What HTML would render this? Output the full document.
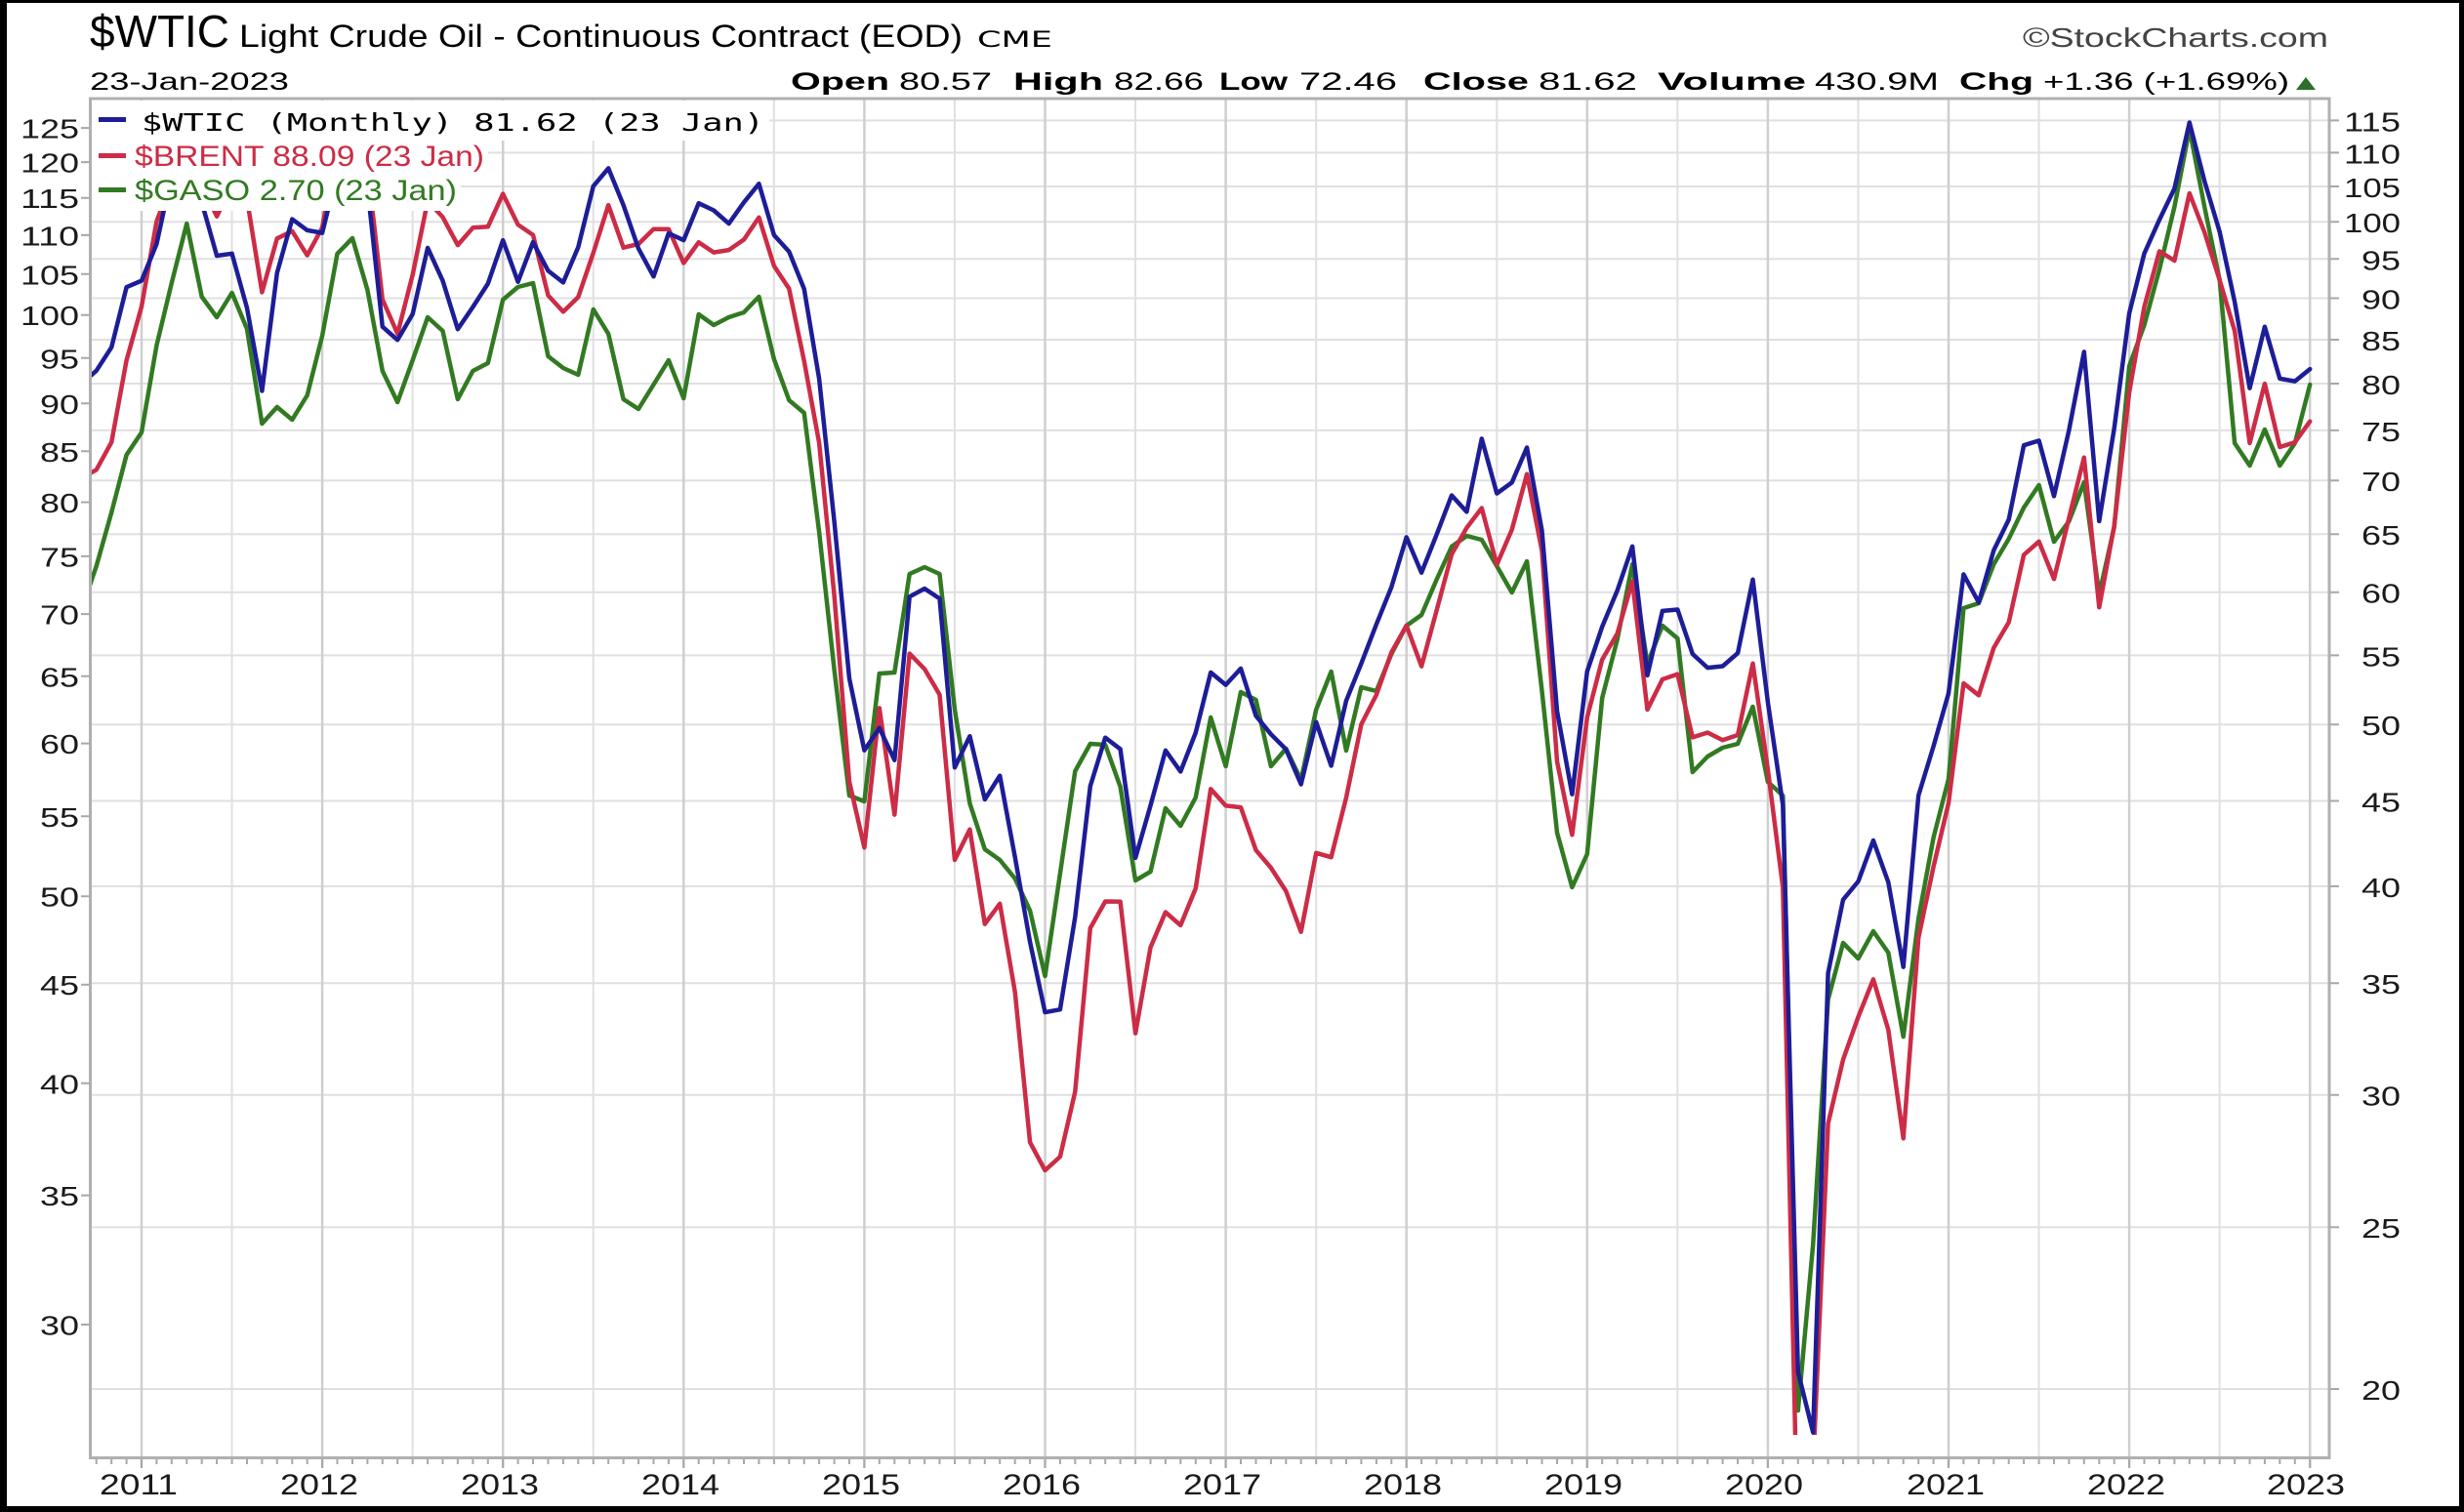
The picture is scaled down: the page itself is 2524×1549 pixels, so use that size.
<!DOCTYPE html>
<html><head><meta charset="utf-8">
<style>
html,body{margin:0;padding:0;background:#000;}
svg{display:block}
text{font-family:"Liberation Sans",sans-serif;}
.ax{font-family:"DejaVu Sans",sans-serif;font-size:28px;fill:#1a1a1a;}
.xl{font-family:"DejaVu Sans",sans-serif;font-size:30px;fill:#1a1a1a;}
</style></head>
<body>
<svg width="2524" height="1549" viewBox="0 0 2524 1549" xmlns="http://www.w3.org/2000/svg">
<defs><clipPath id="pc"><rect x="94" y="102" width="2291" height="1368"/></clipPath></defs>
<rect x="0" y="0" width="2524" height="1549" fill="#000"/>
<rect x="7" y="3" width="2512" height="1540" fill="#fff"/>

<!-- header -->
<text x="92" y="48" font-size="46" textLength="143" lengthAdjust="spacingAndGlyphs">$WTIC</text>
<text x="245" y="48" font-size="32" textLength="741" lengthAdjust="spacingAndGlyphs">Light Crude Oil - Continuous Contract (EOD)</text>
<text x="1001" y="48" font-size="22" style="font-family:'DejaVu Sans',sans-serif" textLength="77" lengthAdjust="spacingAndGlyphs">CME</text>
<text x="2072" y="48" font-size="28" fill="#444" textLength="313" lengthAdjust="spacingAndGlyphs">©StockCharts.com</text>

<text x="92" y="92" font-size="25" textLength="204" lengthAdjust="spacingAndGlyphs">23-Jan-2023</text>
<text x="810" y="92" font-size="25" font-weight="bold" textLength="101" lengthAdjust="spacingAndGlyphs">Open</text>
<text x="921" y="92" font-size="25" textLength="95" lengthAdjust="spacingAndGlyphs">80.57</text>
<text x="1038" y="92" font-size="25" font-weight="bold" textLength="92" lengthAdjust="spacingAndGlyphs">High</text>
<text x="1141" y="92" font-size="25" textLength="92" lengthAdjust="spacingAndGlyphs">82.66</text>
<text x="1249" y="92" font-size="25" font-weight="bold" textLength="70" lengthAdjust="spacingAndGlyphs">Low</text>
<text x="1331" y="92" font-size="25" textLength="100" lengthAdjust="spacingAndGlyphs">72.46</text>
<text x="1458" y="92" font-size="25" font-weight="bold" textLength="108" lengthAdjust="spacingAndGlyphs">Close</text>
<text x="1576" y="92" font-size="25" textLength="101" lengthAdjust="spacingAndGlyphs">81.62</text>
<text x="1698" y="92" font-size="25" font-weight="bold" textLength="152" lengthAdjust="spacingAndGlyphs">Volume</text>
<text x="1859" y="92" font-size="25" textLength="127" lengthAdjust="spacingAndGlyphs">430.9M</text>
<text x="2007" y="92" font-size="25" font-weight="bold" textLength="76" lengthAdjust="spacingAndGlyphs">Chg</text>
<text x="2093" y="92" font-size="25" textLength="252" lengthAdjust="spacingAndGlyphs">+1.36 (+1.69%)</text>
<polygon points="2352,92 2372,92 2362,79" fill="#2e6e2a"/>

<!-- grid -->
<g stroke="#e0e0e0" stroke-width="2">
<path d="M93 1423H2386M93 1257.2H2386M93 1121.7H2386M93 1007.2H2386M93 908H2386M93 820.5H2386M93 742.2H2386M93 671.4H2386M93 606.7H2386M93 547.2H2386M93 492.2H2386M93 440.9H2386M93 393H2386M93 348H2386M93 305.5H2386M93 265.3H2386M93 227.2H2386M93 191H2386M93 156.4H2386M93 123.4H2386"/>
<path d="M237.55 101V1493M422.65 101V1493M607.75 101V1493M792.85 101V1493M977.95 101V1493M1163.05 101V1493M1348.15 101V1493M1533.25 101V1493M1718.35 101V1493M1903.45 101V1493M2088.55 101V1493M2273.65 101V1493"/>
</g>
<g stroke="#cfcfcf" stroke-width="2.5">
<path d="M145 101V1504M330.1 101V1504M515.2 101V1504M700.3 101V1504M885.4 101V1504M1070.5 101V1504M1255.6 101V1504M1440.7 101V1504M1625.8 101V1504M1810.9 101V1504M1996 101V1504M2181.1 101V1504M2366.2 101V1504"/>
</g>

<!-- lines -->
<g id="lines" clip-path="url(#pc)"></g>

<!-- frame -->
<rect x="92.5" y="101" width="2293.5" height="1392.5" fill="none" stroke="#b0b0b0" stroke-width="3"/>
<path id="xt" stroke="#a8a8a8" stroke-width="2" fill="none" d=""/>
<g stroke="#a8a8a8" stroke-width="2">
<path d="M83 131.1H92M83 166.1H92M83 202.7H92M83 240.9H92M83 280.8H92M83 322.7H92M83 366.8H92M83 413.3H92M83 462.3H92M83 514.5H92M83 569.9H92M83 629.1H92M83 692.8H92M83 761.6H92M83 836.3H92M83 918.2H92M83 1008.7H92M83 1109.8H92M83 1224.6H92M83 1357H92"/>
<path d="M2387 1423H2396M2387 1257.2H2396M2387 1121.7H2396M2387 1007.2H2396M2387 908H2396M2387 820.5H2396M2387 742.2H2396M2387 671.4H2396M2387 606.7H2396M2387 547.2H2396M2387 492.2H2396M2387 440.9H2396M2387 393H2396M2387 348H2396M2387 305.5H2396M2387 265.3H2396M2387 227.2H2396M2387 191H2396M2387 156.4H2396M2387 123.4H2396"/>
</g>

<!-- legend -->
<rect x="94" y="103" width="694" height="41" fill="#fff"/>
<rect x="94" y="144" width="406" height="35" fill="#fff"/>
<rect x="94" y="179" width="378" height="37" fill="#fff"/>
<rect x="101" y="120" width="28" height="5" fill="#1d1d97"/>
<rect x="101" y="157" width="28" height="5" fill="#cc2c46"/>
<rect x="101" y="192" width="28" height="5" fill="#327a22"/>
<text x="145" y="134" font-size="25" style="font-family:'DejaVu Sans Mono',monospace" textLength="638" lengthAdjust="spacingAndGlyphs">$WTIC (Monthly) 81.62 (23 Jan)</text>
<text x="138" y="170" font-size="30" fill="#cc2c46" textLength="358" lengthAdjust="spacingAndGlyphs">$BRENT 88.09 (23 Jan)</text>
<text x="138" y="205" font-size="30" fill="#327a22" textLength="330" lengthAdjust="spacingAndGlyphs">$GASO 2.70 (23 Jan)</text>

<!-- left axis labels -->
<g class="ax" text-anchor="end">
<text x="81" y="141.6" textLength="60" lengthAdjust="spacingAndGlyphs">125</text>
<text x="81" y="176.6" textLength="60" lengthAdjust="spacingAndGlyphs">120</text>
<text x="81" y="213.2" textLength="60" lengthAdjust="spacingAndGlyphs">115</text>
<text x="81" y="251.4" textLength="60" lengthAdjust="spacingAndGlyphs">110</text>
<text x="81" y="291.3" textLength="60" lengthAdjust="spacingAndGlyphs">105</text>
<text x="81" y="333.2" textLength="60" lengthAdjust="spacingAndGlyphs">100</text>
<text x="81" y="377.3" textLength="40" lengthAdjust="spacingAndGlyphs">95</text>
<text x="81" y="423.8" textLength="40" lengthAdjust="spacingAndGlyphs">90</text>
<text x="81" y="472.8" textLength="40" lengthAdjust="spacingAndGlyphs">85</text>
<text x="81" y="525" textLength="40" lengthAdjust="spacingAndGlyphs">80</text>
<text x="81" y="580.4" textLength="40" lengthAdjust="spacingAndGlyphs">75</text>
<text x="81" y="639.6" textLength="40" lengthAdjust="spacingAndGlyphs">70</text>
<text x="81" y="703.3" textLength="40" lengthAdjust="spacingAndGlyphs">65</text>
<text x="81" y="772.1" textLength="40" lengthAdjust="spacingAndGlyphs">60</text>
<text x="81" y="846.8" textLength="40" lengthAdjust="spacingAndGlyphs">55</text>
<text x="81" y="928.7" textLength="40" lengthAdjust="spacingAndGlyphs">50</text>
<text x="81" y="1019.2" textLength="40" lengthAdjust="spacingAndGlyphs">45</text>
<text x="81" y="1120.3" textLength="40" lengthAdjust="spacingAndGlyphs">40</text>
<text x="81" y="1235.1" textLength="40" lengthAdjust="spacingAndGlyphs">35</text>
<text x="81" y="1367.5" textLength="40" lengthAdjust="spacingAndGlyphs">30</text>
</g>

<!-- right axis labels -->
<g class="ax" text-anchor="end">
<text x="2459" y="134.4" textLength="58" lengthAdjust="spacingAndGlyphs">115</text>
<text x="2459" y="167.4" textLength="58" lengthAdjust="spacingAndGlyphs">110</text>
<text x="2459" y="202" textLength="58" lengthAdjust="spacingAndGlyphs">105</text>
<text x="2459" y="238.2" textLength="58" lengthAdjust="spacingAndGlyphs">100</text>
<text x="2459" y="276.3" textLength="40" lengthAdjust="spacingAndGlyphs">95</text>
<text x="2459" y="316.5" textLength="40" lengthAdjust="spacingAndGlyphs">90</text>
<text x="2459" y="359" textLength="40" lengthAdjust="spacingAndGlyphs">85</text>
<text x="2459" y="404" textLength="40" lengthAdjust="spacingAndGlyphs">80</text>
<text x="2459" y="451.9" textLength="40" lengthAdjust="spacingAndGlyphs">75</text>
<text x="2459" y="503.2" textLength="40" lengthAdjust="spacingAndGlyphs">70</text>
<text x="2459" y="558.2" textLength="40" lengthAdjust="spacingAndGlyphs">65</text>
<text x="2459" y="617.7" textLength="40" lengthAdjust="spacingAndGlyphs">60</text>
<text x="2459" y="682.4" textLength="40" lengthAdjust="spacingAndGlyphs">55</text>
<text x="2459" y="753.2" textLength="40" lengthAdjust="spacingAndGlyphs">50</text>
<text x="2459" y="831.5" textLength="40" lengthAdjust="spacingAndGlyphs">45</text>
<text x="2459" y="919" textLength="40" lengthAdjust="spacingAndGlyphs">40</text>
<text x="2459" y="1018.2" textLength="40" lengthAdjust="spacingAndGlyphs">35</text>
<text x="2459" y="1132.7" textLength="40" lengthAdjust="spacingAndGlyphs">30</text>
<text x="2459" y="1268.2" textLength="40" lengthAdjust="spacingAndGlyphs">25</text>
<text x="2459" y="1434" textLength="40" lengthAdjust="spacingAndGlyphs">20</text>
</g>

<!-- x axis labels -->
<g class="xl" text-anchor="middle">
<text x="142" y="1531" textLength="80" lengthAdjust="spacingAndGlyphs">2011</text>
<text x="327" y="1531" textLength="80" lengthAdjust="spacingAndGlyphs">2012</text>
<text x="512" y="1531" textLength="80" lengthAdjust="spacingAndGlyphs">2013</text>
<text x="697" y="1531" textLength="80" lengthAdjust="spacingAndGlyphs">2014</text>
<text x="882" y="1531" textLength="80" lengthAdjust="spacingAndGlyphs">2015</text>
<text x="1067" y="1531" textLength="80" lengthAdjust="spacingAndGlyphs">2016</text>
<text x="1252" y="1531" textLength="80" lengthAdjust="spacingAndGlyphs">2017</text>
<text x="1437" y="1531" textLength="80" lengthAdjust="spacingAndGlyphs">2018</text>
<text x="1622" y="1531" textLength="80" lengthAdjust="spacingAndGlyphs">2019</text>
<text x="1807" y="1531" textLength="80" lengthAdjust="spacingAndGlyphs">2020</text>
<text x="1993" y="1531" textLength="80" lengthAdjust="spacingAndGlyphs">2021</text>
<text x="2178" y="1531" textLength="80" lengthAdjust="spacingAndGlyphs">2022</text>
<text x="2362" y="1531" textLength="80" lengthAdjust="spacingAndGlyphs">2023</text>
</g>
</svg>
<script>
(function(){
var NS='http://www.w3.org/2000/svg';
function X(m){return 145+15.425*m;}
var W=[79.97,81.43,84.11,91.38,
92.19,96.97,106.72,113.93,102.70,95.42,95.70,88.81,79.20,93.19,100.36,98.83,
98.48,107.07,103.02,104.87,86.53,84.96,88.06,96.47,92.19,86.24,88.91,91.82,
97.49,92.05,97.23,93.46,91.97,96.56,105.03,107.65,102.33,96.38,92.72,98.42,
97.49,102.59,101.58,99.74,102.71,105.37,98.17,95.96,91.16,80.54,66.15,53.27,
48.24,49.76,47.60,59.63,60.30,59.47,47.12,49.20,45.09,46.59,41.65,37.04,
33.62,33.75,38.34,45.92,49.10,48.33,41.60,44.70,48.24,46.86,49.44,53.72,
52.81,54.01,50.60,49.33,48.32,46.04,50.17,47.23,51.67,54.38,57.40,60.42,
64.73,61.64,64.94,68.57,67.04,74.15,68.76,69.80,73.25,65.31,50.93,45.41,
53.79,57.22,60.14,63.91,53.50,58.47,58.58,55.10,54.07,54.18,55.17,61.06,
51.56,44.76,20.48,18.84,35.49,39.27,40.27,42.61,40.22,35.79,45.34,48.52,
52.20,61.50,59.16,63.58,66.32,73.47,73.95,68.50,75.03,83.57,66.18,75.21,
88.15,95.72,100.28,104.69,114.67,105.76,98.62,89.55,79.49,86.53,80.55,80.26,
81.62];
var B=[82.31,83.15,85.92,94.75,
101.01,111.80,117.36,125.89,116.73,112.48,116.74,114.85,102.76,109.56,110.52,107.38,
110.98,122.66,122.88,119.47,101.87,97.80,104.92,114.57,112.39,108.70,110.98,111.11,
115.55,111.38,110.02,102.37,100.39,102.16,107.70,114.01,108.37,108.84,110.80,110.80,
106.40,109.07,107.76,108.07,109.41,112.36,106.02,103.19,94.67,85.86,70.15,57.33,
52.99,62.58,55.11,66.78,65.56,63.59,52.21,54.15,48.37,49.56,44.61,37.28,
34.74,35.97,39.60,48.13,49.69,49.68,42.46,47.04,49.06,48.30,50.47,56.82,
55.70,55.59,52.83,51.73,50.31,47.92,52.65,52.38,57.54,61.37,63.57,66.87,
69.05,65.78,70.27,75.17,77.59,79.44,74.25,77.42,82.72,75.47,58.71,53.80,
61.89,66.31,68.39,72.80,64.49,66.55,65.17,60.43,60.78,60.23,62.43,66.00,
58.16,50.52,22.74,25.27,35.33,41.15,43.30,45.28,40.95,37.46,47.59,51.80,
55.88,66.13,63.54,67.25,69.32,75.13,76.33,72.99,78.52,84.38,70.57,77.78,
91.21,100.99,107.91,109.34,122.84,114.81,110.01,96.49,87.96,94.83,85.43,85.91,
88.09];
var Bo={46:610,60:1199,61:1185,80:817,100:727,101:696,106:753,112:1151,116:1055,121:700,135:267,136:198,137:238,138:287,139:339,140:454,141:393};
var G=[625,580,525,466,
443,354,290,229,304,325,300,337,434,417,430,405,
344,260,244,297,380,412,369,325,339,409,380,372,
307,294,290,365,377,384,317,342,409,419,394,369,
408,322,333,325,320,304,368,410,423,545,686,815,
821,690,689,588,581,588,727,823,870,881,900,933,
1000,895,790,762,763,806,902,893,828,846,817,735,
785,709,717,785,767,799,727,688,769,704,708,670,
641,630,594,560,549,553,580,607,575,708,853,909,
875,715,655,578,680,641,654,791,775,766,762,724,
801,815,1445,1275,1024,966,982,954,976,1062,941,858,
798,623,618,578,552,520,497,555,534,494,609,540,
375,333,276,212,132,212,287,454,477,440,477,454,
394];
function mk(vals,fy,ov,color){
  var p=[];
  for(var i=0;i<vals.length;i++){
    var m=i-4;
    var y=(ov&&ov.hasOwnProperty(m))?ov[m]:fy(vals[i]);
    p.push(X(m).toFixed(1)+','+y.toFixed(1));
  }
  var el=document.createElementNS(NS,'polyline');
  el.setAttribute('points',p.join(' '));
  el.setAttribute('fill','none');
  el.setAttribute('stroke',color);
  el.setAttribute('stroke-width','4.5');
  el.setAttribute('stroke-linejoin','round');
  el.setAttribute('stroke-linecap','round');
  document.getElementById('lines').appendChild(el);
}
mk(G,function(v){return v;},null,'#327a22');
mk(B,function(v){return 4278.6-859*Math.log(v);},Bo,'#cc2c46');
mk(W,function(v){return 1423-743*Math.log(v/20);},null,'#1d1d97');
var d='';
for(var m=-3;m<=144;m++){var x=X(m);d+='M'+x.toFixed(1)+' 1495V'+(m%12===0?1504:1500);}
document.getElementById('xt').setAttribute('d',d);
})();
</script>
</body></html>
